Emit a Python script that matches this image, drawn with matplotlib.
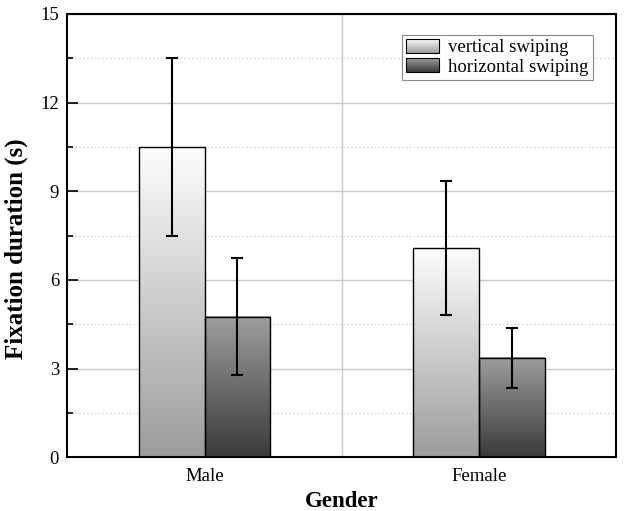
import numpy as np
import matplotlib
matplotlib.use("Agg")
import matplotlib.pyplot as plt
from matplotlib.colors import LinearSegmentedColormap
from matplotlib.patches import Rectangle
from matplotlib.image import BboxImage
from matplotlib.transforms import Bbox, TransformedBbox
from matplotlib.legend_handler import HandlerBase
from matplotlib.ticker import MultipleLocator

genders = ["Male", "Female"]
series = ["vertical swiping", "horizontal swiping"]
means = {"vertical swiping": [10.5, 7.08], "horizontal swiping": [4.76, 3.36]}
errors = {"vertical swiping": [3.02, 2.26], "horizontal swiping": [1.99, 1.01]}

cmaps = {
    "vertical swiping": LinearSegmentedColormap.from_list("v", ["#9c9c9c", "#fdfdfd"]),
    "horizontal swiping": LinearSegmentedColormap.from_list("h", ["#3a3a3a", "#9e9e9e"]),
}
grad = np.linspace(0, 1, 256).reshape(-1, 1)

plt.rcParams["font.family"] = ["Liberation Serif", "DejaVu Serif"]


class GradientHandler(HandlerBase):
    def create_artists(self, legend, orig_handle, xdescent, ydescent,
                       width, height, fontsize, trans):
        bb = TransformedBbox(Bbox.from_bounds(-xdescent, -ydescent, width, height), trans)
        img = BboxImage(bb, cmap=orig_handle.cmap, origin="lower", interpolation="bilinear")
        img.set_data(grad)
        rect = Rectangle((-xdescent, -ydescent), width, height, facecolor="none",
                         edgecolor="black", linewidth=0.8, transform=trans)
        return [img, rect]


class GradHandle:
    def __init__(self, cmap):
        self.cmap = cmap


fig, ax = plt.subplots(figsize=(6.24, 5.11), dpi=100)
fig.subplots_adjust(left=0.108, right=0.987, top=0.973, bottom=0.105)

x = np.arange(1, len(genders) + 1)
w = 0.24
offsets = [-w / 2, w / 2]

for s, off in zip(series, offsets):
    bars = ax.bar(x + off, means[s], w, facecolor="none", edgecolor="black",
                  linewidth=1.0, zorder=3)
    for b in bars:
        ax.imshow(grad, cmap=cmaps[s], origin="lower", aspect="auto",
                  interpolation="bilinear", zorder=2,
                  extent=(b.get_x(), b.get_x() + b.get_width(), 0, b.get_height()))
    ax.errorbar(x + off, means[s], yerr=errors[s], fmt="none", ecolor="black",
                elinewidth=1.5, capsize=4, capthick=1.5, zorder=4)

ax.set_xlim(0.5, 2.5)
ax.set_ylim(0, 15)
ax.set_xticks(x)
ax.set_xticklabels(genders)
ax.yaxis.set_major_locator(MultipleLocator(3))
ax.yaxis.set_minor_locator(MultipleLocator(1.5))
ax.set_xticks([1.5], minor=True)

ax.grid(True, which="major", axis="y", color="#c8c8c8", linewidth=1.0, zorder=0)
ax.grid(True, which="minor", axis="y", color="#cccccc", linewidth=0.8,
        linestyle=(0, (1.5, 2)), zorder=0)
ax.grid(True, which="minor", axis="x", color="#c8c8c8", linewidth=1.0, zorder=0)
ax.set_axisbelow(True)

ax.tick_params(axis="y", which="major", direction="in", length=8, width=1.2,
               labelsize=13.5, pad=6)
ax.tick_params(axis="y", which="minor", direction="in", length=4, width=1.2)
ax.tick_params(axis="x", which="both", length=0, labelsize=13.5, pad=8)
for sp in ax.spines.values():
    sp.set_linewidth(1.5)

ax.set_ylabel("Fixation duration (s)", fontsize=18, fontweight="bold")
ax.yaxis.set_label_coords(-0.071, 0.47)
ax.set_xlabel("Gender", fontsize=16.5, fontweight="bold", labelpad=4)

handles = [GradHandle(cmaps[s]) for s in series]
leg = ax.legend(handles, series, handler_map={GradHandle: GradientHandler()},
                loc="upper right", bbox_to_anchor=(0.958, 0.953), fontsize=13.5,
                fancybox=False, framealpha=1, edgecolor="#888888",
                handlelength=1.75, handleheight=0.75, handletextpad=0.5,
                borderpad=0.22, labelspacing=0.12, borderaxespad=0)
leg.get_frame().set_linewidth(0.8)

fig.savefig("out.png", dpi=100)
